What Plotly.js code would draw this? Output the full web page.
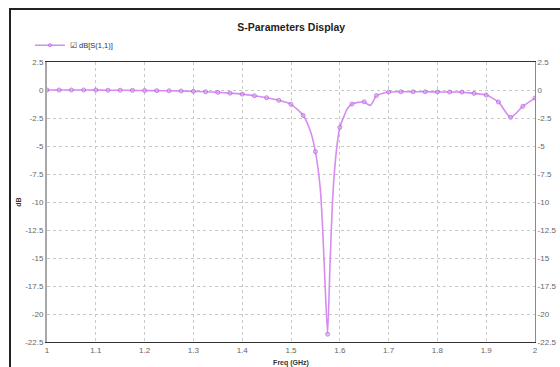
<!DOCTYPE html>
<html>
<head>
<meta charset="utf-8">
<script src="https://cdn.plot.ly/plotly-3.0.1.min.js"></script>
<style>
  html, body { margin: 0; padding: 0; background: #fff; }
  #wrap { position: relative; width: 560px; height: 367px; overflow: hidden; }
  #chart { position: absolute; left: 0; top: 0; width: 560px; height: 367px; }
  #frame { position: absolute; left: 9px; top: 8px; width: 620px; height: 420px;
           border-left: 2px solid #222; border-top: 2px solid #222; pointer-events: none; }
</style>
</head>
<body>
<div id="wrap">
  <div id="chart"></div>
  <div id="frame"></div>
</div>
<script>
// Return loss sweep, sampled every 25 MHz (these samples carry the markers)
const freq = [1.000, 1.025, 1.050, 1.075, 1.100, 1.125, 1.150, 1.175, 1.200, 1.225,
              1.250, 1.275, 1.300, 1.325, 1.350, 1.375, 1.400, 1.425, 1.450, 1.475,
              1.500, 1.525, 1.550, 1.575, 1.600, 1.625, 1.650, 1.675, 1.700, 1.725,
              1.750, 1.775, 1.800, 1.825, 1.850, 1.875, 1.900, 1.925, 1.950, 1.975, 2.000];
const s11 = [0, 0, 0, 0, 0, -0.02, -0.02, -0.03, -0.05, -0.06,
             -0.07, -0.09, -0.12, -0.16, -0.21, -0.28, -0.37, -0.51, -0.69, -0.92,
             -1.28, -2.27, -5.5, -21.8, -3.34, -1.25, -1.05, -0.5, -0.18, -0.16,
             -0.16, -0.16, -0.17, -0.18, -0.19, -0.3, -0.45, -1.07, -2.44, -1.46, -0.72];

// Additional sweep points between markers (resonance and the small notch)
const extraFreq = [1.540, 1.560, 1.565, 1.570, 1.580, 1.585, 1.590, 1.595, 1.610, 1.615,
                   1.658, 1.663, 1.668];
const extraS11  = [-3.7, -8.8, -12.5, -17.5, -15.5, -10.0, -6.8, -4.7, -2.2, -1.7,
                   -1.3, -1.37, -1.05];

// Axis ticks
const xTicks = [1, 1.1, 1.2, 1.3, 1.4, 1.5, 1.6, 1.7, 1.8, 1.9, 2];
const xTickText = ['1', '1.1', '1.2', '1.3', '1.4', '1.5', '1.6', '1.7', '1.8', '1.9', '2'];
const yTicks = [2.5, 0, -2.5, -5, -7.5, -10, -12.5, -15, -17.5, -20, -22.5];
const yTickText = ['2.5', '0', '-2.5', '-5', '-7.5', '-10', '-12.5', '-15', '-17.5', '-20', '-22.5'];

// Merge the marked samples with the in-between points, sorted by frequency
const pts = freq.map((f, i) => ({ f, v: s11[i], m: true }))
  .concat(extraFreq.map((f, i) => ({ f, v: extraS11[i], m: false })))
  .sort((a, b) => a.f - b.f);

const LINE = '#d68cf0';
const MARK = '#b456dc';

const trace = {
  x: pts.map(p => p.f),
  y: pts.map(p => p.v),
  type: 'scatter',
  mode: 'lines+markers',
  name: '\u2611 dB[S(1,1)]',
  line: { color: LINE, width: 1.6, shape: 'spline', smoothing: 0.6 },
  marker: { color: '#dfa8f4', size: pts.map(p => p.m ? 4 : 0),
            line: { color: MARK, width: 1 } },
  hoverinfo: 'x+y'
};

const tickFont = { family: 'Liberation Sans Narrow, Liberation Sans, Arial, sans-serif', size: 8, color: '#666' };

const layout = {
  width: 560,
  height: 367,
  margin: { l: 47, r: 25, t: 62, b: 25 },
  paper_bgcolor: '#ffffff',
  plot_bgcolor: '#ffffff',
  title: {
    text: '<b>S-Parameters Display</b>',
    font: { family: 'Liberation Sans, Arial, sans-serif', size: 10.5, color: '#222' },
    x: 0.52, xanchor: 'center', y: 0.925, yanchor: 'middle'
  },
  showlegend: true,
  legend: {
    x: -0.035, xanchor: 'left', y: 1.06, yanchor: 'middle',
    bgcolor: 'rgba(0,0,0,0)',
    font: { family: 'Liberation Sans, Arial, sans-serif', size: 7.5, color: '#333' },
    itemwidth: 30
  },
  xaxis: {
    range: [1, 2],
    tickvals: xTicks, ticktext: xTickText,
    tickfont: tickFont,
    ticks: '', ticklen: 0,
    showgrid: true, gridcolor: '#c8c8c8', griddash: 'dot', gridwidth: 1,
    showline: true, linecolor: '#333', linewidth: 1, mirror: true,
    zeroline: false,
    title: { text: '<b>Freq (GHz)</b>', standoff: 7,
             font: { family: 'Liberation Sans, Arial, sans-serif', size: 7, color: '#333' } }
  },
  yaxis: {
    range: [-22.5, 2.5],
    tickvals: yTicks, ticktext: yTickText,
    tickfont: tickFont,
    ticks: '', ticklen: 0,
    showgrid: true, gridcolor: '#c8c8c8', griddash: 'dot', gridwidth: 1,
    showline: true, linecolor: '#a8a8a8', linewidth: 2,
    zeroline: false,
    title: { text: '<b>dB</b>', standoff: 3,
             font: { family: 'Liberation Sans, Arial, sans-serif', size: 7, color: '#333' } }
  },
  yaxis2: {
    overlaying: 'y', side: 'right', matches: 'y',
    range: [-22.5, 2.5],
    tickvals: yTicks, ticktext: yTickText,
    tickfont: tickFont,
    ticks: '', showgrid: false, zeroline: false,
    showline: true, linecolor: '#8a8a8a', linewidth: 1
  }
};

const anchor = { x: [1], y: [0], yaxis: 'y2', type: 'scatter', mode: 'markers',
                 marker: { opacity: 0 }, showlegend: false, hoverinfo: 'skip' };

Plotly.newPlot('chart', [trace, anchor], layout, { displayModeBar: false, staticPlot: true });
</script>
</body>
</html>
